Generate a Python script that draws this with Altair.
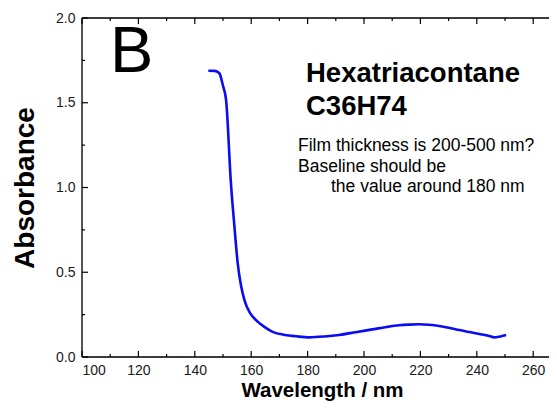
import altair as alt
import pandas as pd

# ---- data ----
wavelength = [144.8, 147.0, 148.7, 150.0, 151.1, 152.8, 154.0, 155.2, 156.4, 157.6,
              159.5, 161.7, 164.8, 167.6, 172.0, 176.0, 180.6, 186.0, 191.2, 197.0,
              203.0, 208.0, 212.5, 216.0, 219.6, 223.0, 226.7, 230.0, 233.8, 237.5,
              240.9, 244.4, 246.2, 248.0, 250.4]
absorbance = [1.689, 1.688, 1.674, 1.600, 1.516, 1.027, 0.780, 0.555, 0.420, 0.336,
              0.262, 0.218, 0.176, 0.148, 0.130, 0.122, 0.116, 0.121, 0.130, 0.146,
              0.163, 0.177, 0.187, 0.191, 0.193, 0.190, 0.183, 0.173, 0.159, 0.147,
              0.136, 0.124, 0.116, 0.120, 0.130]

x_major = [100, 120, 140, 160, 180, 200, 220, 240, 260]
x_minor = [110, 130, 150, 170, 190, 210, 230, 250]
y_major = [0.0, 0.5, 1.0, 1.5, 2.0]
y_minor = [0.25, 0.75, 1.25, 1.75]

x_title = "Wavelength / nm"
y_title = "Absorbance"
panel_label = "B"
name_lines = ["Hexatriacontane", "C36H74"]
note_lines = ["Film thickness is 200-500 nm?", "Baseline should be", "the value around 180 nm"]

# ---- layout ----
W, H = 467, 339
FONT = "Liberation Sans"
xs = alt.Scale(domain=[100, 265.6], nice=False, zero=False)
ys = alt.Scale(domain=[0, 2], nice=False, zero=False)

df = pd.DataFrame({"wl": wavelength, "a": absorbance})

line = alt.Chart(df).mark_line(color="#0a0cf2", strokeWidth=2.6, interpolate="monotone").encode(
    x=alt.X("wl:Q", scale=xs, axis=alt.Axis(
        values=x_major, format="d", ticks=False, domain=False, grid=False,
        labelFont=FONT, labelFontSize=14, labelColor="#1a1a1a", labelPadding=6,
        title=x_title, titleFont=FONT, titleFontSize=20.5, titleFontWeight="bold",
        titleColor="#000", titleX=240, titleY=39, titleBaseline="alphabetic")),
    y=alt.Y("a:Q", scale=ys, axis=alt.Axis(
        values=y_major, format=".1f", ticks=False, domain=False, grid=False,
        labelFont=FONT, labelFontSize=14, labelColor="#1a1a1a", labelPadding=7,
        title=y_title, titleFont=FONT, titleFontSize=28, titleFontWeight="bold",
        titleColor="#000", titleX=-57, titleY=H / 2, titleBaseline="middle",
        titleAlign="center")),
)

# frame: left, top and bottom edges (the right edge lies beyond the picture)
frame = pd.DataFrame({"x0": [0, 0, 0], "x1": [0, W, W], "y0": [0, 0, H], "y1": [H, 0, H]})
frame_layer = alt.Chart(frame).mark_rule(color="#000", strokeWidth=1.3).encode(
    x=alt.X("x0:Q", scale=None), x2="x1:Q",
    y=alt.Y("y0:Q", scale=None), y2="y1:Q")

xt = pd.DataFrame({"v": x_major + x_minor, "len": [6] * len(x_major) + [3] * len(x_minor)})
yt = pd.DataFrame({"v": y_major + y_minor, "len": [6] * len(y_major) + [3] * len(y_minor)})

def xticks(y0, sign):
    layers = []
    for L in (6, 3):
        d = xt[xt["len"] == L]
        layers.append(alt.Chart(d).mark_rule(color="#000", strokeWidth=1.2).encode(
            x=alt.X("v:Q", scale=xs), y=alt.value(y0), y2=alt.value(y0 + sign * L)))
    return layers

def yticks(x0, sign):
    layers = []
    for L in (6, 3):
        d = yt[yt["len"] == L]
        layers.append(alt.Chart(d).mark_rule(color="#000", strokeWidth=1.2).encode(
            y=alt.Y("v:Q", scale=ys), x=alt.value(x0), x2=alt.value(x0 + sign * L)))
    return layers

tick_layers = xticks(H, -1) + xticks(0, 1) + yticks(0, 1)

def label(text, x, y, size, weight="normal"):
    return alt.Chart(pd.DataFrame({"t": [text]})).mark_text(
        align="left", baseline="alphabetic", font=FONT, fontSize=size,
        fontWeight=weight, color="#000").encode(
        text="t:N", x=alt.value(x), y=alt.value(y))

texts = [
    label(panel_label, 28, 54, 65),
    label(name_lines[0], 224, 64, 27.5, "bold"),
    label(name_lines[1], 224, 97, 27.5, "bold"),
    label(note_lines[0], 216, 133, 17.5),
    label(note_lines[1], 216, 154, 17.5),
    label(note_lines[2], 249, 174, 17.5),
]

chart = alt.layer(line, frame_layer, *tick_layers, *texts).properties(
    width=W, height=H,
    autosize=alt.AutoSizeParams(type="none"),
    padding={"left": 74, "top": 10, "right": 0, "bottom": 44},
).configure_view(stroke=None).configure(background="white")

chart.save("out.html", embed_options={"renderer": "svg", "actions": False})
